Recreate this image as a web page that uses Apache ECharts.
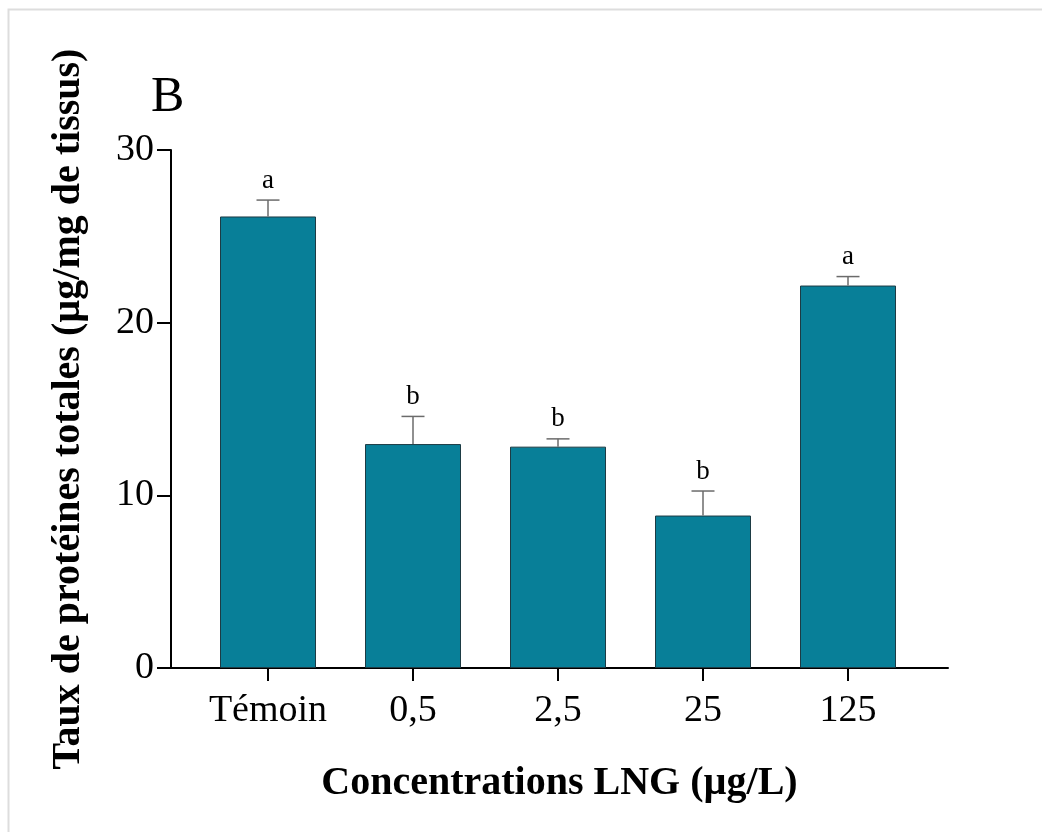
<!DOCTYPE html>
<html><head><meta charset="utf-8">
<script src="https://cdn.jsdelivr.net/npm/echarts@6/dist/echarts.min.js"></script>
<style>html,body{margin:0;padding:0;background:#fff}#c{width:1042px;height:832px}</style>
</head><body><div id="c"></div>
<script>
const categories = ['Témoin', '0,5', '2,5', '25', '125'];
const means = [26.15, 12.97, 12.82, 8.83, 22.15];
const errors = [0.95, 1.60, 0.45, 1.42, 0.52];
const letters = ['a', 'b', 'b', 'b', 'a'];
const yMin = 0, yMax = 30, yStep = 10;

const FONT = '"Liberation Serif", "Times New Roman", serif';
const BAR = '#087f98';

const errData = categories.map((c, i) => [i, means[i], means[i] + errors[i], letters[i]]);

const chart = echarts.init(document.getElementById('c'), null, {renderer: 'canvas'});
chart.setOption({
  backgroundColor: '#fff',
  animation: false,
  graphic: [
    {type: 'rect', left: 6, top: 7, shape: {width: 1200, height: 1000},
     style: {fill: 'none', stroke: '#dddddd', lineWidth: 2}},
    {type: 'text', left: 151, top: 73,
     style: {text: 'B', font: '50px ' + FONT, fill: '#000'}}
  ],
  grid: [
    {left: 171, right: 94, top: 150, bottom: 164},
    {left: 195.5, right: 121.5, top: 150, bottom: 164}
  ],
  xAxis: [
    {gridIndex: 0, type: 'value', min: 0, max: 1,
     axisLine: {show: true, lineStyle: {color: '#000', width: 2}},
     axisTick: {show: false}, axisLabel: {show: false}, splitLine: {show: false},
     name: 'Concentrations LNG (µg/L)', nameLocation: 'middle', nameGap: 96,
     nameTextStyle: {fontFamily: FONT, fontSize: 40, fontWeight: 'bold', color: '#000'}},
    {gridIndex: 1, type: 'category', data: categories,
     axisLine: {show: false},
     axisTick: {show: true, alignWithLabel: true, interval: 0, length: 13, lineStyle: {color: '#000', width: 2}},
     axisLabel: {fontFamily: FONT, fontSize: 38, color: '#000', margin: 24, interval: 0},
     splitLine: {show: false}}
  ],
  yAxis: [
    {gridIndex: 0, type: 'value', min: yMin, max: yMax, interval: yStep,
     axisLine: {show: true, lineStyle: {color: '#000', width: 2}},
     axisTick: {show: true, length: 14, lineStyle: {color: '#000', width: 2}},
     axisLabel: {fontFamily: FONT, fontSize: 38, color: '#000', margin: 17},
     splitLine: {show: false},
     name: 'Taux de protéines totales (µg/mg de tissus)', nameLocation: 'middle', nameGap: 82,
     nameRotate: 90,
     nameTextStyle: {fontFamily: FONT, fontSize: 40, fontWeight: 'bold', color: '#000'}},
    {gridIndex: 1, type: 'value', min: yMin, max: yMax, interval: yStep, show: false}
  ],
  series: [
    {type: 'bar', xAxisIndex: 1, yAxisIndex: 1, data: means, barWidth: 96,
     itemStyle: {color: BAR, borderColor: '#1d3b44', borderWidth: 1}},
    {type: 'custom', xAxisIndex: 1, yAxisIndex: 1, data: errData, z: 5,
     renderItem: function (params, api) {
       const base = api.coord([api.value(0), api.value(1)]);
       const top = api.coord([api.value(0), api.value(2)]);
       const half = 11.5;
       const st = {stroke: '#6b6b6b', lineWidth: 1.5};
       return {type: 'group', children: [
         {type: 'line', shape: {x1: base[0], y1: base[1], x2: top[0], y2: top[1]}, style: st},
         {type: 'line', shape: {x1: top[0] - half, y1: top[1], x2: top[0] + half, y2: top[1]}, style: st},
         {type: 'text', style: {text: api.value(3), x: top[0], y: top[1] - 6,
           textAlign: 'center', textVerticalAlign: 'bottom',
           font: '27px ' + FONT, fill: '#000'}}
       ]};
     }}
  ]
});
</script></body></html>
